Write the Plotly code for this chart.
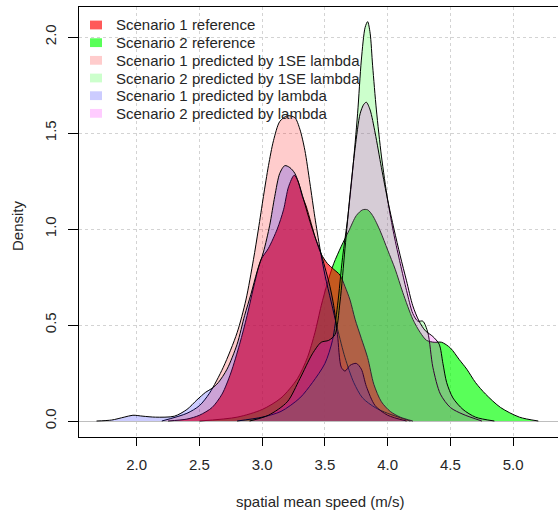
import plotly.graph_objects as go

# ---- data (density curves) ----
s1_ref_x = [2.25, 2.4, 2.5, 2.6, 2.68, 2.75, 2.82, 2.88, 2.94, 2.99, 3.05, 3.12, 3.17, 3.21, 3.255, 3.285, 3.32, 3.35, 3.39, 3.43, 3.47, 3.52, 3.57, 3.62, 3.66, 3.7, 3.74, 3.79, 3.84, 3.89, 3.95, 4.02, 4.1, 4.2]
s1_ref_y = [0, 0.01, 0.03, 0.07, 0.14, 0.25, 0.4, 0.55, 0.72, 0.84, 0.9, 1.0, 1.1, 1.22, 1.28, 1.25, 1.17, 1.12, 1.03, 0.94, 0.87, 0.82, 0.79, 0.76, 0.7, 0.63, 0.53, 0.43, 0.33, 0.19, 0.1, 0.05, 0.02, 0]

s2_ref_x = [2.5, 2.8, 3.0, 3.15, 3.28, 3.36, 3.42, 3.47, 3.52, 3.57, 3.63, 3.69, 3.75, 3.8, 3.84, 3.88, 3.94, 4.0, 4.06, 4.12, 4.2, 4.26, 4.31, 4.37, 4.43, 4.5, 4.57, 4.63, 4.7, 4.78, 4.9, 5.05, 5.2]
s2_ref_y = [0, 0.02, 0.06, 0.12, 0.22, 0.33, 0.46, 0.6, 0.72, 0.82, 0.91, 0.99, 1.07, 1.1, 1.1, 1.07, 0.99, 0.89, 0.79, 0.67, 0.53, 0.46, 0.42, 0.41, 0.41, 0.38, 0.32, 0.27, 0.2, 0.14, 0.07, 0.02, 0]

s1_1se_x = [2.2, 2.4, 2.5, 2.58, 2.69, 2.8, 2.87, 2.93, 2.97, 3.01, 3.05, 3.09, 3.14, 3.2, 3.26, 3.3, 3.34, 3.38, 3.42, 3.46, 3.5, 3.55, 3.6, 3.66, 3.73, 3.8, 3.9, 4.0, 4.18]
s1_1se_y = [0, 0.04, 0.08, 0.145, 0.28, 0.46, 0.63, 0.84, 1.0, 1.17, 1.33, 1.46, 1.56, 1.59, 1.58, 1.52, 1.41, 1.24, 1.06, 0.9, 0.76, 0.62, 0.48, 0.33, 0.2, 0.12, 0.07, 0.04, 0]

s2_1se_x = [2.8, 3.0, 3.15, 3.3, 3.4, 3.5, 3.56, 3.6, 3.64, 3.68, 3.72, 3.76, 3.79, 3.82, 3.84, 3.86, 3.88, 3.91, 3.95, 4.0, 4.05, 4.1, 4.15, 4.2, 4.24, 4.28, 4.32, 4.36, 4.42, 4.5, 4.6, 4.75]
s2_1se_y = [0, 0.02, 0.05, 0.12, 0.2, 0.3, 0.42, 0.6, 0.85, 1.05, 1.3, 1.6, 1.88, 2.05, 2.08, 2.02, 1.85, 1.62, 1.38, 1.15, 0.97, 0.82, 0.68, 0.56, 0.52, 0.52, 0.46, 0.28, 0.14, 0.07, 0.035, 0]

s1_lam_x = [1.68, 1.8, 1.9, 1.97, 2.05, 2.15, 2.3, 2.4, 2.48, 2.55, 2.6, 2.65, 2.72, 2.8, 2.86, 2.91, 2.96, 3.01, 3.06, 3.1, 3.14, 3.18, 3.22, 3.26, 3.3, 3.34, 3.38, 3.42, 3.46, 3.5, 3.54, 3.57, 3.6, 3.63, 3.66, 3.7, 3.75, 3.79, 3.83, 3.9, 4.0, 4.15]
s1_lam_y = [0, 0.005, 0.02, 0.03, 0.025, 0.02, 0.025, 0.06, 0.11, 0.15, 0.17, 0.2, 0.27, 0.4, 0.55, 0.66, 0.78, 0.88, 1.02, 1.17, 1.29, 1.33, 1.32, 1.29, 1.22, 1.13, 1.04, 0.96, 0.89, 0.8, 0.7, 0.6, 0.45, 0.28, 0.26, 0.29, 0.3, 0.27, 0.18, 0.08, 0.03, 0]

s2_lam_x = [2.9, 3.05, 3.2, 3.3, 3.4, 3.47, 3.53, 3.58, 3.62, 3.66, 3.7, 3.74, 3.78, 3.81, 3.83, 3.86, 3.9, 3.95, 4.0, 4.05, 4.1, 4.15, 4.2, 4.25, 4.3, 4.36, 4.41, 4.44, 4.47, 4.52, 4.6, 4.7, 4.85]
s2_lam_y = [0, 0.03, 0.1, 0.22, 0.35, 0.41, 0.42, 0.45, 0.62, 0.9, 1.18, 1.42, 1.6, 1.65, 1.66, 1.62, 1.5, 1.32, 1.15, 1.0, 0.86, 0.73, 0.6, 0.52, 0.47, 0.44, 0.4, 0.3, 0.2, 0.12, 0.06, 0.02, 0]

legend_labels = ["Scenario 1 reference", "Scenario 2 reference",
                 "Scenario 1 predicted by 1SE lambda", "Scenario 2 predicted by 1SE lambda",
                 "Scenario 1 predicted by lambda", "Scenario 2 predicted by lambda"]
x_ticks = [2.0, 2.5, 3.0, 3.5, 4.0, 4.5, 5.0]
y_ticks = [0.0, 0.5, 1.0, 1.5, 2.0]

# ---- styles ----
fills = {
    "s1_ref": "rgba(255,0,0,0.65)",
    "s2_ref": "rgba(0,255,0,0.65)",
    "s1_1se": "rgba(255,0,0,0.2)",
    "s2_1se": "rgba(0,255,0,0.2)",
    "s1_lam": "rgba(0,0,255,0.2)",
    "s2_lam": "rgba(255,0,255,0.2)",
}
legend_colors = [fills["s1_ref"], fills["s2_ref"], fills["s1_1se"],
                 fills["s2_1se"], fills["s1_lam"], fills["s2_lam"]]

FONT = "Liberation Sans, Arial, sans-serif"
TXT = "#262626"

fig = go.Figure()
draw_order = [
    (s2_ref_x, s2_ref_y, fills["s2_ref"]),
    (s1_ref_x, s1_ref_y, fills["s1_ref"]),
    (s1_1se_x, s1_1se_y, fills["s1_1se"]),
    (s2_1se_x, s2_1se_y, fills["s2_1se"]),
    (s1_lam_x, s1_lam_y, fills["s1_lam"]),
    (s2_lam_x, s2_lam_y, fills["s2_lam"]),
]
for xs, ys, fc in draw_order:
    fig.add_trace(go.Scatter(
        x=xs, y=ys, mode="lines", fill="toself", fillcolor=fc,
        line=dict(color="black", width=1, shape="spline", smoothing=0.8),
        hoverinfo="skip", showlegend=False))

# plot area in pixels
L, R, T, B = 79, 558, 7, 437
W, H = R - L, B - T

def px(x):
    return (x - L) / W

def py(y):
    return (B - y) / H

shapes = []
annotations = []
row0, dy = 25.0, 17.67
for i, (lab, col) in enumerate(zip(legend_labels, legend_colors)):
    cy = row0 + i * dy
    shapes.append(dict(type="rect", xref="paper", yref="paper",
                       x0=px(90), x1=px(102), y0=py(cy + 4.4), y1=py(cy - 4.4),
                       fillcolor=col, line=dict(width=0), layer="above"))
    annotations.append(dict(text=lab, xref="paper", yref="paper",
                            x=px(114), y=py(cy), xanchor="left", yanchor="middle",
                            showarrow=False, font=dict(family=FONT, size=15, color=TXT)))

annotations.append(dict(text="spatial mean speed (m/s)", xref="paper", yref="paper",
                        x=px(319.5), y=py(501), xanchor="center", yanchor="middle",
                        showarrow=False, font=dict(family=FONT, size=15, color=TXT)))
annotations.append(dict(text="Density", xref="paper", yref="paper",
                        x=px(17), y=py(226), xanchor="center", yanchor="middle",
                        textangle=-90, showarrow=False,
                        font=dict(family=FONT, size=15, color=TXT)))

# range mapping: 2.0 -> px 136.7, 125.5 px/unit ; 0.0 -> py 421, 192 px/unit
x0 = 2.0 - (136.7 - L) / 125.5
x1 = 2.0 + (R - 136.7) / 125.5
y0 = -(B - 421) / 192.0
y1 = (421 - T) / 192.0

fig.update_layout(
    width=558, height=511,
    margin=dict(l=L, r=558 - R, t=T, b=511 - B),
    paper_bgcolor="white", plot_bgcolor="white",
    showlegend=False,
    shapes=shapes, annotations=annotations,
    font=dict(family=FONT, size=15, color=TXT),
    xaxis=dict(range=[x0, x1], tickvals=x_ticks, tickformat=".1f",
               showgrid=True, gridcolor="#d3d3d3", griddash="dot", gridwidth=1,
               zeroline=False, showline=True, linecolor="black", linewidth=1,
               mirror=True, ticks="outside", ticklen=8, tickcolor="black",
               tickfont=dict(family=FONT, size=15, color=TXT),
               ticklabelstandoff=6),
    yaxis=dict(range=[y0, y1], tickvals=y_ticks, tickformat=".1f", tickangle=-90,
               showgrid=True, gridcolor="#d3d3d3", griddash="dot", gridwidth=1,
               zeroline=True, zerolinecolor="#bebebe", zerolinewidth=1,
               showline=True, linecolor="black", linewidth=1,
               ticks="outside", ticklen=10, tickcolor="black",
               tickfont=dict(family=FONT, size=15, color=TXT),
               ticklabelstandoff=6),
)

fig.write_html("out.html",
               config={"displayModeBar": False, "staticPlot": True},
               post_script="document.body.style.margin='0px';document.body.style.overflow='hidden';")
